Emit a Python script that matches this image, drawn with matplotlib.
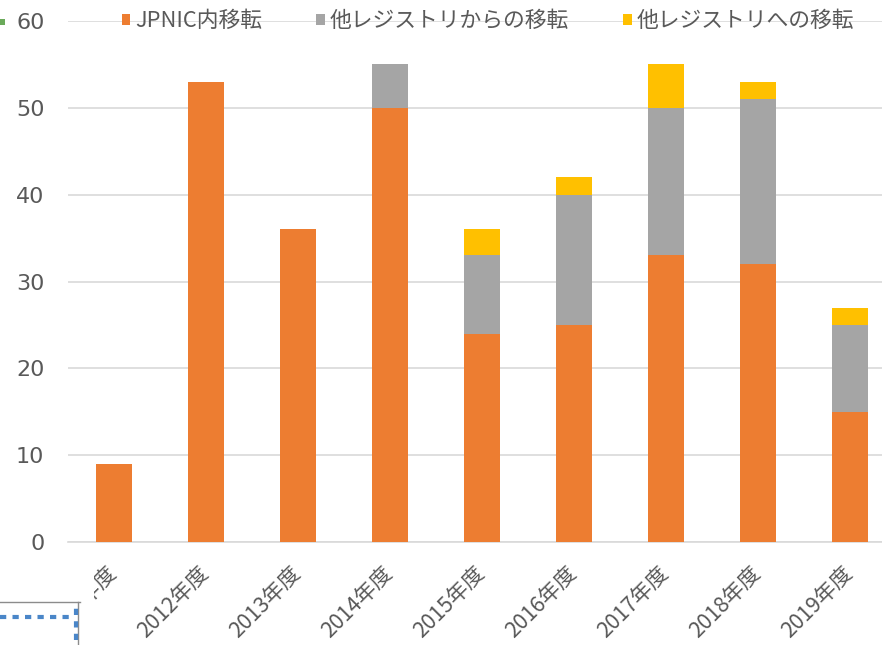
import numpy as np
import matplotlib
matplotlib.use("Agg")
from matplotlib import pyplot as plt
from matplotlib.patches import Rectangle
from matplotlib.lines import Line2D

plt.rcParams['font.family'] = ['Noto Sans CJK JP', 'DejaVu Sans']

years = ["2011年度", "2012年度", "2013年度", "2014年度", "2015年度",
         "2016年度", "2017年度", "2018年度", "2019年度"]
jpnic_internal = [9, 53, 36, 50, 24, 25, 33, 32, 15]
from_other_rir = [0, 0, 0, 5, 9, 15, 17, 19, 10]
to_other_rir = [0, 0, 0, 0, 3, 2, 5, 2, 2]
series_names = ["JPNIC内移転", "他レジストリからの移転", "他レジストリへの移転"]
y_ticks = [0, 10, 20, 30, 40, 50, 60]

colors = ["#ED7D31", "#A5A5A5", "#FFC000"]
text_col = "#595959"
grid_col = "#D9D9D9"

fig = plt.figure(figsize=(8.82, 6.45), dpi=100)
ax = fig.add_axes([68 / 882, 103 / 645, 828 / 882, 521 / 645])

x = np.arange(len(years))
w = 0.39
bottom = np.zeros(len(years))
bars = []
for vals, col in zip([jpnic_internal, from_other_rir, to_other_rir], colors):
    b = ax.bar(x, vals, w, bottom=bottom, color=col, zorder=3)
    bars.append(b)
    bottom += np.array(vals)

ax.set_xlim(-0.5, len(years) - 0.5)
ax.set_ylim(0, 60)
ax.set_yticks(y_ticks)
ax.set_yticklabels([str(t) for t in y_ticks], fontsize=16, color=text_col,
                   family="DejaVu Sans")
ax.yaxis.grid(True, color=grid_col, lw=1.2, zorder=0)
ax.tick_params(axis="y", length=0, pad=17)
ax.tick_params(axis="x", length=0, pad=20)
ax.set_xticks(x)
ax.set_xticklabels(years, rotation=45, ha="right", va="center",
                   rotation_mode="anchor", fontsize=15.5, color=text_col)
for s in ["top", "right", "left"]:
    ax.spines[s].set_visible(False)
ax.spines["bottom"].set_color(grid_col)
ax.spines["bottom"].set_linewidth(1.2)

fig.legend(bars, series_names, loc="center", bbox_to_anchor=(0.553, 0.967),
           ncol=3, frameon=False, fontsize=15.7, handlelength=0.4,
           handleheight=0.45, handletextpad=0.2, columnspacing=2.5,
           labelcolor=text_col)

# screenshot leftovers: white cover bottom-left with a bit of another chart
fig.patches.append(Rectangle((0, 0), 94 / 882, 72 / 645, transform=fig.transFigure,
                             facecolor="white", edgecolor="none", zorder=10))
fig.lines.append(Line2D([0, 80 / 882], [43 / 645, 43 / 645], transform=fig.transFigure,
                        color="#8c8c8c", lw=1, zorder=11))
fig.lines.append(Line2D([78 / 882, 78 / 882], [0, 43 / 645], transform=fig.transFigure,
                        color="#8c8c8c", lw=1, zorder=11))
fig.lines.append(Line2D([0, 70 / 882], [28 / 645, 28 / 645], transform=fig.transFigure,
                        color="#4a86c8", lw=3, ls=(0, (1.5, 1.5)), zorder=11))
fig.lines.append(Line2D([76 / 882, 76 / 882], [5 / 645, 40 / 645], transform=fig.transFigure,
                        color="#4a86c8", lw=3, ls=(0, (1.5, 1.5)), zorder=11))
fig.patches.append(Rectangle((0, 620 / 645), 5 / 882, 6 / 645, transform=fig.transFigure,
                             facecolor="#6aaa5a", edgecolor="none", zorder=11))

fig.savefig("out.png", dpi=100, facecolor="white")
